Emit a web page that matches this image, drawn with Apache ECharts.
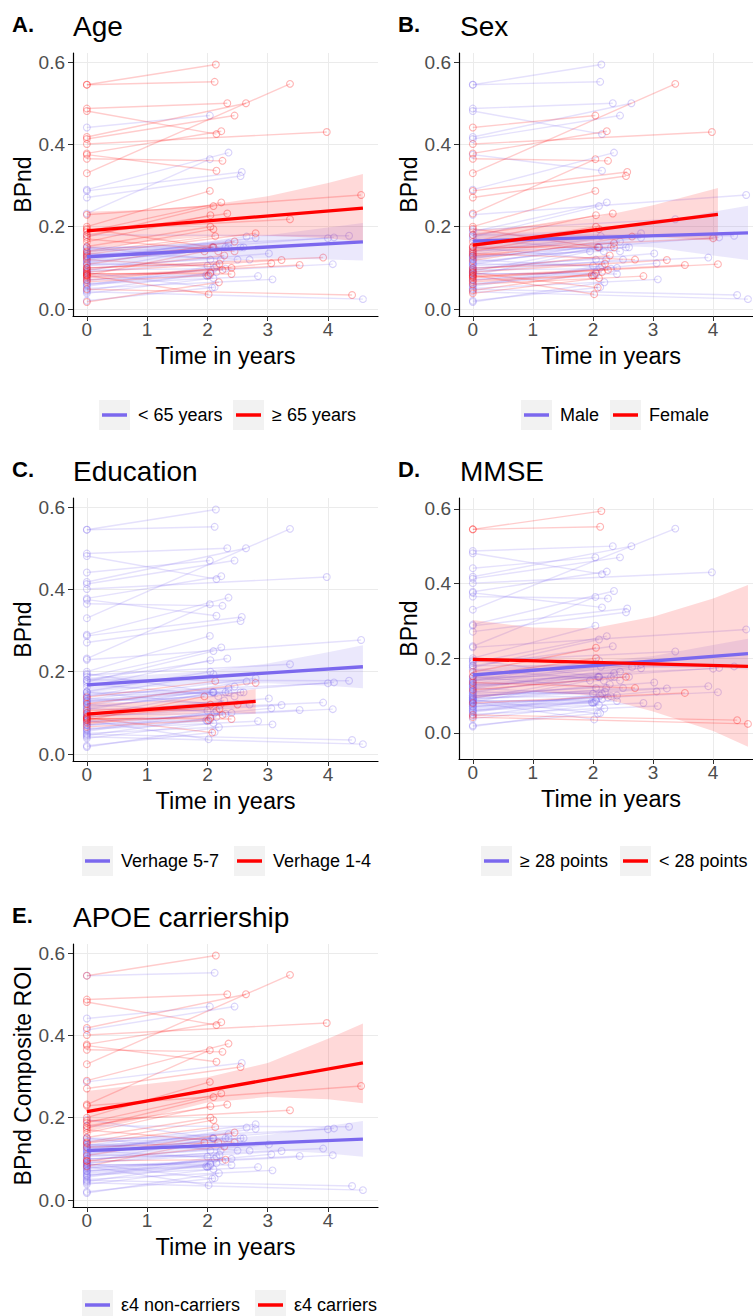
<!DOCTYPE html>
<html><head><meta charset="utf-8">
<script src="https://cdn.jsdelivr.net/npm/echarts@6/dist/echarts.min.js"></script>
<style>html,body{margin:0;padding:0;background:#fff}#chart{width:753px;height:1316px}</style>
</head><body><div id="chart"></div>
<script>
// ---------- DATA ----------
// one entry per subject: baseline BPnd (t = 0), follow-up time (years), follow-up BPnd
const subjBaseline = [0.545,0.545,0.487,0.481,0.441,0.418,0.413,0.401,0.378,0.375,0.365,0.330,0.290,0.287,0.271,0.232,0.229,0.200,0.192,0.188,0.175,0.180,0.163,0.152,0.140,0.138,0.133,0.118,0.122,0.180,0.128,0.145,0.108,0.098,0.090,0.080,0.100,0.078,0.070,0.060,0.050,0.048,0.042,0.082,0.020,0.017,0.062,0.066,0.072,0.082,0.092,0.100,0.112,0.130,0.120,0.045,0.090,0.142,0.076,0.105,0.135,0.086,0.088,0.128,0.095,0.055,0.195,0.150,0.110,0.125,0.070,0.095,0.058,0.150,0.085,0.170,0.038,0.115];
const subjFollowTime = [2.14,2.12,2.33,2.15,2.04,2.64,2.45,3.98,2.23,2.15,2.25,3.37,2.35,2.57,2.55,2.04,4.55,2.04,3.37,2.23,2.10,2.33,2.05,2.05,2.10,2.13,2.80,2.65,2.80,4.35,4.10,4.00,2.45,3.02,3.23,3.53,3.92,4.08,3.06,2.84,3.08,4.40,4.58,2.02,2.12,2.19,2.00,2.02,2.05,1.95,2.10,2.20,2.30,2.35,2.40,2.15,2.50,2.60,2.25,2.05,2.70,2.40,2.08,2.18,2.30,2.12,2.08,2.22,2.00,2.10,1.98,2.28,2.15,2.35,2.05,2.45,2.10,2.55];
const subjFollowValue = [0.594,0.552,0.500,0.425,0.470,0.500,0.470,0.430,0.432,0.336,0.360,0.547,0.380,0.333,0.323,0.364,0.277,0.287,0.218,0.259,0.250,0.232,0.228,0.200,0.194,0.177,0.184,0.176,0.173,0.178,0.174,0.172,0.164,0.135,0.119,0.107,0.125,0.109,0.111,0.080,0.072,0.034,0.024,0.036,0.053,0.065,0.080,0.082,0.085,0.140,0.150,0.110,0.150,0.160,0.100,0.090,0.120,0.150,0.095,0.120,0.120,0.085,0.052,0.140,0.098,0.100,0.150,0.120,0.105,0.150,0.082,0.130,0.105,0.150,0.088,0.140,0.075,0.150];
// group membership per subject (0 = first legend entry, 1 = second legend entry)
const groupAge  = [1,1,1,1,0,1,1,1,1,1,1,1,0,0,0,0,1,1,1,1,1,1,1,1,1,1,1,0,0,0,0,0,1,0,1,1,1,0,1,0,0,1,0,1,0,1,0,1,0,1,0,1,0,0,1,0,0,0,1,0,0,1,0,1,0,0,1,0,0,1,0,1,0,0,1,1,0,0];
const groupSex  = [0,0,0,0,1,0,0,1,1,0,1,1,0,1,1,1,0,1,0,0,0,1,1,1,1,0,0,1,0,0,0,1,0,0,1,1,0,1,0,1,0,0,0,1,0,0,0,1,0,0,0,1,0,1,0,1,0,0,1,0,1,0,1,0,0,0,1,0,0,0,1,1,0,1,0,0,1,0];
const groupEdu  = [0,0,0,0,0,0,0,0,0,0,0,0,0,0,0,0,0,0,0,0,0,0,0,0,0,1,0,0,1,0,0,0,0,0,0,0,0,0,0,0,0,0,0,0,0,0,0,1,0,1,0,1,0,0,0,0,1,0,1,1,0,1,1,0,0,0,0,0,0,0,0,0,0,0,1,0,0,0];
const groupMmse = [1,1,0,0,0,0,0,0,0,0,0,0,0,0,0,0,0,0,0,0,0,0,1,1,0,0,0,0,0,0,0,0,0,0,0,1,0,0,0,0,0,1,1,0,0,0,0,0,0,0,0,0,0,0,0,0,0,0,0,0,1,0,0,0,0,0,0,0,0,0,0,0,0,0,0,0,0,1];
const groupApoe = [1,0,1,1,0,1,0,1,1,1,1,1,1,0,1,1,1,1,1,1,1,1,1,1,1,1,0,0,0,0,0,0,1,0,0,0,0,0,0,0,0,0,0,0,0,0,0,0,0,1,0,0,0,0,0,0,0,0,0,0,0,0,0,1,1,0,0,0,0,0,0,1,0,0,0,1,0,0];

// group names
const namesAge  = ['< 65 years', '\u2265 65 years'];
const namesSex  = ['Male', 'Female'];
const namesEdu  = ['Verhage 5-7', 'Verhage 1-4'];
const namesMmse = ['\u2265 28 points', '< 28 points'];
const namesApoe = ['\u03b54 non-carriers', '\u03b54 carriers'];

const panelTitles = ['Age', 'Sex', 'Education', 'MMSE', 'APOE carriership'];
const panelTags = ['A.', 'B.', 'C.', 'D.', 'E.'];
const yAxisTitles = ['BPnd', 'BPnd', 'BPnd', 'BPnd', 'BPnd Composite ROI'];
const xAxisTitle = 'Time in years';
const xTicks = [0, 1, 2, 3, 4];
const yTicks = [0, 0.2, 0.4, 0.6];

// fitted regression lines: [time, BPnd] at start and end
const fitAge0 = [[0, 0.127], [4.58, 0.163]];
const fitAge1 = [[0, 0.190], [4.58, 0.245]];
const fitSex0 = [[0, 0.165], [4.58, 0.185]];
const fitSex1 = [[0, 0.155], [4.08, 0.230]];
const fitEdu0 = [[0, 0.168], [4.58, 0.212]];
const fitEdu1 = [[0, 0.097], [2.80, 0.128]];
const fitMmse0 = [[0, 0.155], [4.58, 0.212]];
const fitMmse1 = [[0, 0.197], [4.58, 0.178]];
const fitApoe0 = [[0, 0.120], [4.58, 0.148]];
const fitApoe1 = [[0, 0.215], [4.58, 0.333]];

// confidence bands: [time, lower, upper]
const bandAge0 = [[0,0.105,0.149],[1,0.115,0.153],[2,0.122,0.162],[3,0.123,0.179],[4,0.120,0.198],[4.58,0.118,0.209]];
const bandAge1 = [[0,0.146,0.236],[1,0.163,0.241],[2,0.176,0.252],[3,0.178,0.274],[4,0.172,0.306],[4.58,0.163,0.328]];
const bandSex0 = [[0,0.145,0.186],[1,0.152,0.186],[2,0.155,0.192],[3,0.150,0.208],[4,0.130,0.236],[4.58,0.119,0.251]];
const bandSex1 = [[0,0.120,0.191],[1,0.145,0.202],[2,0.165,0.221],[3,0.175,0.252],[4.08,0.166,0.294]];
const bandEdu0 = [[0,0.150,0.186],[1,0.162,0.192],[2,0.170,0.202],[3,0.172,0.220],[4,0.166,0.247],[4.58,0.160,0.264]];
const bandEdu1 = [[0,0.070,0.124],[1,0.089,0.127],[2,0.100,0.140],[2.8,0.098,0.158]];
const bandMmse0 = [[0,0.138,0.172],[1,0.152,0.180],[2,0.165,0.190],[3,0.174,0.206],[4,0.175,0.235],[4.58,0.170,0.252]];
const bandMmse1 = [[0,0.092,0.302],[1,0.110,0.282],[2,0.100,0.280],[3,0.057,0.311],[4,0.005,0.360],[4.58,-0.037,0.396]];
const bandApoe0 = [[0,0.106,0.136],[1,0.115,0.139],[2,0.121,0.145],[3,0.122,0.158],[4,0.113,0.180],[4.58,0.105,0.192]];
const bandApoe1 = [[0,0.165,0.265],[1,0.200,0.282],[2,0.237,0.298],[3,0.250,0.333],[4,0.245,0.392],[4.58,0.235,0.429]];

// ---------- LAYOUT / STYLE ----------
const FONT = '"Liberation Sans", Arial, Helvetica, sans-serif';
const COLORS = ['#7B68EE', '#FF0000'];
function rgba(hex, a) {
  const n = parseInt(hex.slice(1), 16);
  return 'rgba(' + ((n >> 16) & 255) + ',' + ((n >> 8) & 255) + ',' + (n & 255) + ',' + a + ')';
}
const panels = [
  { grid: {left: 73, top: 53, width: 305, height: 263}, ymin: -0.017, ymax: 0.622, groups: groupAge, names: namesAge,
    fits: [fitAge0, fitAge1], bands: [bandAge0, bandAge1], tag: [12, 13], title: [73, 12], leg: [[102, 415], [236, 415]], box: [[99, 400], [233, 400]] },
  { grid: {left: 459, top: 53, width: 304, height: 263}, ymin: -0.017, ymax: 0.622, groups: groupSex, names: namesSex,
    fits: [fitSex0, fitSex1], bands: [bandSex0, bandSex1], tag: [398, 13], title: [460, 12], leg: [[524, 415], [613, 415]], box: [[521, 400], [610, 400]] },
  { grid: {left: 73, top: 498, width: 305, height: 263}, ymin: -0.017, ymax: 0.622, groups: groupEdu, names: namesEdu,
    fits: [fitEdu0, fitEdu1], bands: [bandEdu0, bandEdu1], tag: [12, 458], title: [73, 457], leg: [[85, 861], [237, 861]], box: [[82, 846], [234, 846]] },
  { grid: {left: 459, top: 498, width: 304, height: 261}, ymin: -0.07, ymax: 0.629, groups: groupMmse, names: namesMmse,
    fits: [fitMmse0, fitMmse1], bands: [bandMmse0, bandMmse1], tag: [398, 458], title: [460, 457], leg: [[484, 861], [623, 861]], box: [[481, 846], [620, 846]] },
  { grid: {left: 73, top: 944, width: 305, height: 263}, ymin: -0.017, ymax: 0.622, groups: groupApoe, names: namesApoe,
    fits: [fitApoe0, fitApoe1], bands: [bandApoe0, bandApoe1], tag: [12, 904], title: [73, 903], leg: [[85, 1305], [258, 1305]], box: [[82, 1290], [255, 1290]] }
];

const grids = [], xAxes = [], yAxes = [], series = [], titles = [], legends = [], graphics = [];

panels.forEach((p, i) => {
  grids.push(Object.assign({containLabel: false, outerBoundsMode: 'none'}, p.grid));
  xAxes.push({
    type: 'value', gridIndex: i, min: -0.23, max: 4.83,
    name: xAxisTitle, nameLocation: 'middle', nameGap: 28,
    nameTextStyle: {fontSize: 23.5, color: '#000', fontFamily: FONT},
    axisLine: {show: true, onZero: false, lineStyle: {color: '#000', width: 1.2}},
    axisTick: {show: true, length: 5, customValues: xTicks, lineStyle: {color: '#333', width: 1}},
    axisLabel: {customValues: xTicks, fontSize: 19, color: '#4D4D4D', margin: 4, fontFamily: FONT, formatter: v => String(v)},
    splitLine: {show: true, lineStyle: {color: '#EBEBEB', width: 1}}
  });
  yAxes.push({
    type: 'value', gridIndex: i, min: p.ymin, max: p.ymax,
    name: yAxisTitles[i], nameLocation: 'middle', nameGap: 39,
    nameTextStyle: {fontSize: 23, color: '#000', fontFamily: FONT},
    axisLine: {show: true, onZero: false, lineStyle: {color: '#000', width: 1.2}},
    axisTick: {show: true, length: 5, customValues: yTicks, lineStyle: {color: '#333', width: 1}},
    axisLabel: {customValues: yTicks, fontSize: 19, color: '#4D4D4D', margin: 8, fontFamily: FONT, formatter: v => v.toFixed(1)},
    splitLine: {show: true, lineStyle: {color: '#EBEBEB', width: 1}}
  });

  // individual trajectories
  [0, 1].forEach(g => {
    const data = [];
    for (let k = 0; k < subjBaseline.length; k++) {
      if (p.groups[k] === g) data.push([0, subjBaseline[k], subjFollowTime[k], subjFollowValue[k]]);
    }
    const col = COLORS[g];
    series.push({
      type: 'custom', xAxisIndex: i, yAxisIndex: i, silent: true, z: 2 + g,
      encode: {x: [0, 2], y: [1, 3]},
      data: data,
      renderItem: (params, api) => {
        const a = api.coord([api.value(0), api.value(1)]);
        const b = api.coord([api.value(2), api.value(3)]);
        return {type: 'group', children: [
          {type: 'line', shape: {x1: a[0], y1: a[1], x2: b[0], y2: b[1]}, style: {stroke: rgba(col, 0.2), lineWidth: 1.4}},
          {type: 'circle', shape: {cx: a[0], cy: a[1], r: 3.4}, style: {fill: 'none', stroke: rgba(col, 0.3), lineWidth: 1.1}},
          {type: 'circle', shape: {cx: b[0], cy: b[1], r: 3.4}, style: {fill: 'none', stroke: rgba(col, 0.3), lineWidth: 1.1}}
        ]};
      }
    });
  });
  // confidence bands
  [0, 1].forEach(g => {
    const band = p.bands[g];
    const col = COLORS[g];
    series.push({
      type: 'custom', xAxisIndex: i, yAxisIndex: i, silent: true, z: 4,
      data: [[band[0][0], band[0][1]]],
      renderItem: (params, api) => {
        const pts = band.map(r => api.coord([r[0], r[2]]))
          .concat(band.slice().reverse().map(r => api.coord([r[0], r[1]])));
        return {type: 'polygon', shape: {points: pts}, style: {fill: rgba(col, 0.15)}};
      }
    });
  });
  // fitted lines
  [0, 1].forEach(g => {
    series.push({
      type: 'line', name: p.names[g], xAxisIndex: i, yAxisIndex: i, z: 5, silent: true,
      data: p.fits[g], showSymbol: false, symbol: 'none',
      lineStyle: {color: COLORS[g], width: 3.3}, itemStyle: {color: COLORS[g]}
    });
    legends.push({
      left: p.leg[g][0], top: p.leg[g][1] - 9, padding: 0, data: [p.names[g]], selectedMode: false,
      icon: 'rect', itemWidth: 25, itemHeight: 3.5, z: 6,
      textStyle: {fontSize: 18, color: '#000', fontFamily: FONT, padding: [0, 0, 0, 6]}
    });
    graphics.push({type: 'rect', left: p.box[g][0], top: p.box[g][1], shape: {width: 31, height: 30}, style: {fill: '#F2F2F2'}, z: 0});
  });

  titles.push({text: panelTags[i], left: p.tag[0], top: p.tag[1], padding: 0,
    textStyle: {fontSize: 22, fontWeight: 'bold', color: '#000', fontFamily: FONT}});
  titles.push({text: panelTitles[i], left: p.title[0], top: p.title[1], padding: 0,
    textStyle: {fontSize: 28, fontWeight: 'normal', color: '#000', fontFamily: FONT}});
});

const chart = echarts.init(document.getElementById('chart'), null, {renderer: 'svg'});
chart.setOption({
  backgroundColor: '#fff',
  animation: false,
  title: titles,
  legend: legends,
  grid: grids,
  xAxis: xAxes,
  yAxis: yAxes,
  graphic: graphics,
  series: series
});
</script>
</body></html>
